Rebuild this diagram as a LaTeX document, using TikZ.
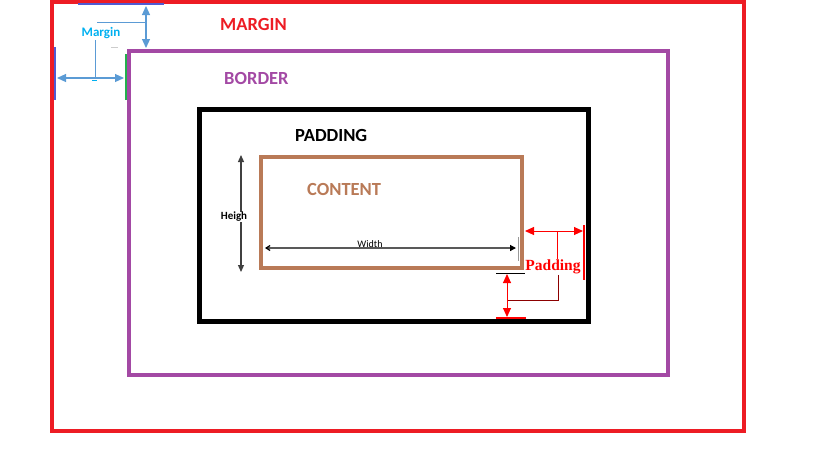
\documentclass[tikz,border=0pt]{standalone}
\usepackage{fontspec}
\setmainfont{Carlito}
\newfontfamily\padfont{Liberation Serif}
\usetikzlibrary{arrows.meta}
\definecolor{mred}{RGB}{237,28,36}
\definecolor{mpurple}{RGB}{163,73,164}
\definecolor{mbrown}{RGB}{185,122,87}
\definecolor{mblue}{RGB}{91,155,213}
\definecolor{mtxtblue}{RGB}{0,176,240}
\definecolor{mdkblue}{RGB}{80,90,210}
\definecolor{mgreen}{RGB}{34,177,76}
\tikzset{
  box/.style={draw, line join=miter},
  lbl/.style={font=\bfseries\fontsize{18.5}{20}\selectfont, inner sep=0pt, anchor=base west},
  marr/.style={mblue, line width=1.2pt, {Triangle[length=9pt,width=8pt]}-{Triangle[length=9pt,width=8pt]}},
  parr/.style={red, line width=1pt, {Triangle[length=9pt,width=8pt]}-{Triangle[length=9pt,width=8pt]}},
}
\begin{document}
\begin{tikzpicture}[x=1pt,y=-1pt]
\useasboundingbox (0,0) rectangle (834,456);
% boxes
\draw[box, mred, line width=4pt] (52,2) rectangle (744,431);
\draw[box, mpurple, line width=4pt] (129,51) rectangle (668,375);
\draw[box, black, line width=5pt] (199,109) rectangle (588,321);
\draw[box, mbrown, line width=4pt] (261,157) rectangle (522,268);
% labels
\node[lbl, text=mred] (tmargin) at (220,30.7) {MARGIN};
\node[lbl, text=mpurple] (tborder) at (224,84) {BORDER};
\node[lbl, text=black] (tpadding) at (295,141) {PADDING};
\node[lbl, text=mbrown] (tcontent) at (307,195.3) {CONTENT};
% margin indicators
\coordinate (mt1) at (78,4); \coordinate (mt2) at (164,4);
\draw[mdkblue, line width=2.5pt] (mt1) -- (mt2);
\coordinate (mva) at (146,6); \coordinate (mvb) at (146,48);
\draw[marr] (mva) -- (mvb);
\coordinate (mh1) at (97,22);
\draw[mblue, line width=0.8pt] (mh1) -- (146,22);
\coordinate (ml1) at (55,47); \coordinate (ml2) at (55,100);
\draw[mdkblue, line width=2.5pt] (ml1) -- (ml2);
\coordinate (mg1) at (126,54); \coordinate (mg2) at (126,100);
\draw[mgreen, line width=2.5pt] (mg1) -- (mg2);
\coordinate (mha) at (57,78); \coordinate (mhb) at (124,78);
\draw[marr] (mha) -- (mhb);
\node[font=\bfseries\fontsize{13}{15}\selectfont, text=mtxtblue, inner sep=1pt] (tm) at (101,33) {Margin};
\draw[mblue, line width=0.8pt] (tm.south -| 95,0) -- (95,78);
\draw[mtxtblue, line width=1pt] (92,80.5) -- (97,80.5);
\draw[black!20, line width=0.8pt] (111,47) -- (118,47);
% height
\coordinate (ha) at (241,155); \coordinate (hb) at (241,272);
\draw[black!75, line width=1.2pt, {Triangle[length=7pt,width=6pt]}-{Triangle[length=7pt,width=6pt]}] (ha) -- (hb);
\node[font=\bfseries\fontsize{11}{12}\selectfont, inner sep=0pt, fill=white] (th) at (234,217) {Heigh};
% width
\coordinate (wa) at (265,248); \coordinate (wb) at (516,248);
\draw[black!65, line width=1.2pt, {Straight Barb[length=4pt,width=5pt,black]}-{Triangle[length=6pt,width=6pt,black]}] (wa) -- (wb);
\node[font=\fontsize{10}{11}\selectfont, inner sep=0pt] (tw) at (370,244.5) {Width};
\draw[black!40, line width=1pt] (518,237) -- (518,261);
% padding indicators
\coordinate (pha) at (525,231); \coordinate (phb) at (583,231);
\draw[parr] (pha) -- (phb);
\draw[red, line width=2pt] (584,225) -- (584,280);
\node[font=\padfont\bfseries\fontsize{15.5}{17}\selectfont, text=red, inner sep=0.5pt, fill=white] (tp) at (553,267) {Padding};
\draw[red, line width=0.8pt] (557,231) -- (tp.north -| 557,0);
\draw[red!55!black, line width=0.8pt] (tp.south -| 558,0) -- (558,300) -- (507,300);
\coordinate (pva) at (507,274); \coordinate (pvb) at (507,317);
\draw[parr] (pva) -- (pvb);
\draw[black, line width=1pt] (496,273) -- (525,273);
\draw[red, line width=1.5pt] (496,318) -- (526,318);
\end{tikzpicture}
\end{document}
